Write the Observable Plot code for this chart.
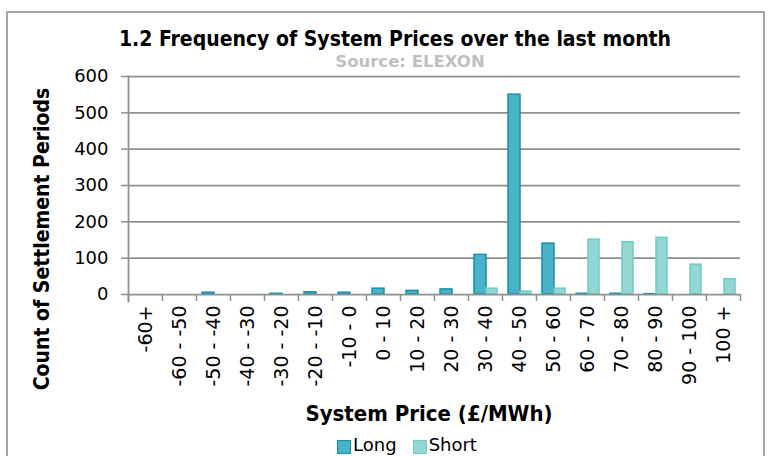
<!DOCTYPE html>
<html>
<head>
<meta charset="utf-8">
<script src="https://cdn.jsdelivr.net/npm/d3@7"></script>
<script src="https://cdn.jsdelivr.net/npm/@observablehq/plot@0.6"></script>
<style>
  body { margin: 0; background: #fff; width: 771px; height: 456px; overflow: hidden; position: relative; font-family: "DejaVu Sans", Verdana, sans-serif; }
  #frame { position: absolute; left: 6px; top: 11px; width: 759px; height: 470px; border: 2px solid #a6a6a6; box-sizing: border-box; }
  .t { position: absolute; white-space: nowrap; line-height: 1; }
  #title { left: 0; width: 790px; top: 27px; text-align: center; font: bold 21px "DejaVu Sans Condensed", "DejaVu Sans", sans-serif; color: #000; }
  #subtitle { left: 0; width: 820px; top: 52px; text-align: center; font: bold 16.5px "DejaVu Sans", sans-serif; color: #bfbfbf; }
  #ylabel { left: 42px; top: 239px; transform: translate(-50%, -50%) rotate(-90deg); font: bold 21px "DejaVu Sans Condensed", "DejaVu Sans", sans-serif; color: #000; }
  #xlabel { left: 0; width: 858px; top: 401px; text-align: center; font: bold 22px "DejaVu Sans Condensed", "DejaVu Sans", sans-serif; color: #000; }
  #legend { left: 0; width: 814px; top: 434px; display: flex; justify-content: center; gap: 16px; font: 18px "DejaVu Sans", sans-serif; color: #000; }
  .item { display: flex; align-items: flex-end; gap: 2px; }
  .sw { width: 12px; height: 12px; margin-bottom: 1px; }
  #chart { position: absolute; left: 0; top: 60px; }
</style>
</head>
<body>
<div id="frame"></div>
<div id="title" class="t">1.2 Frequency of System Prices over the last month</div>
<div id="subtitle" class="t">Source: ELEXON</div>
<div id="ylabel" class="t">Count of Settlement Periods</div>
<div id="chart"></div>
<div id="xlabel" class="t">System Price (£/MWh)</div>
<div id="legend" class="t"></div>
<script>
const categories = ["-60+", "-60 - -50", "-50 - -40", "-40 - -30", "-30 - -20", "-20 - -10", "-10 - 0",
  "0 - 10", "10 - 20", "20 - 30", "30 - 40", "40 - 50", "50 - 60", "60 - 70", "70 - 80", "80 - 90", "90 - 100", "100 +"];
const longCounts  = [0, 0, 5, 0, 2, 6, 5, 16, 10, 14, 109, 550, 140, 2, 2, 1, 0, 0];
const shortCounts = [0, 0, 0, 0, 0, 0, 0, 0, 0, 0, 16, 8, 16, 151, 144, 156, 82, 42];
const yTicks = [0, 100, 200, 300, 400, 500, 600];
const seriesNames = ["Long", "Short"];

const colors = {
  Long: {fill: "#4bb3c8", stroke: "#1590aa"},
  Short: {fill: "#93d7d3", stroke: "#6dcdc6"}
};

const longRows = categories.map((c, i) => ({category: c, series: "Long", value: longCounts[i]}));
const shortRows = categories.map((c, i) => ({category: c, series: "Short", value: shortCounts[i]}));

const gray = "#8f8f8f";

const chart = Plot.plot({
  width: 771,
  height: 340,
  marginLeft: 128,
  marginRight: 31,
  marginTop: 16,
  marginBottom: 106,
  style: {fontFamily: "DejaVu Sans, Verdana, sans-serif", fontSize: "18px", color: "#000", background: "transparent"},
  x: {type: "band", domain: categories, padding: 0},
  y: {domain: [0, 600]},
  marks: [
    Plot.gridY(yTicks.slice(1), {stroke: gray, strokeOpacity: 1, strokeWidth: 1.75}),
    Plot.barY(longRows, {x: "category", y: "value", filter: d => d.value > 0,
      fill: colors.Long.fill, stroke: colors.Long.stroke, strokeWidth: 1.5, insetLeft: 6, insetRight: 16}),
    Plot.barY(shortRows, {x: "category", y: "value", filter: d => d.value > 0,
      fill: colors.Short.fill, stroke: colors.Short.stroke, strokeWidth: 1.5, insetLeft: 18, insetRight: 5}),
    Plot.ruleY([0], {stroke: gray, strokeWidth: 1.75}),
    Plot.frame({anchor: "left", stroke: gray, strokeWidth: 1.75, insetBottom: -7}),
    Plot.axisY({ticks: yTicks, tickSize: 7, tickPadding: 13, label: null, stroke: gray, strokeWidth: 1.5, fill: "#000", fontSize: 18}),
    Plot.axisX({tickSize: 7, tickFormat: () => "", dx: -17, label: null, stroke: gray, strokeWidth: 1.5}),
    Plot.axisX({ticks: [categories[categories.length - 1]], tickSize: 7, tickFormat: () => "", dx: 17, label: null, stroke: gray, strokeWidth: 1.5}),
    Plot.axisX({tickSize: 0, tickPadding: 11, tickRotate: -90, label: null, fill: "#000", fontSize: 19})
  ]
});
document.getElementById("chart").appendChild(chart);

const legend = document.getElementById("legend");
for (const s of seriesNames) {
  const item = document.createElement("div");
  item.className = "item";
  const sw = document.createElement("div");
  sw.className = "sw";
  sw.style.background = colors[s].fill;
  sw.style.border = `1.5px solid ${colors[s].stroke}`;
  const label = document.createElement("span");
  label.textContent = s;
  item.appendChild(sw);
  item.appendChild(label);
  legend.appendChild(item);
}
</script>
</body>
</html>
